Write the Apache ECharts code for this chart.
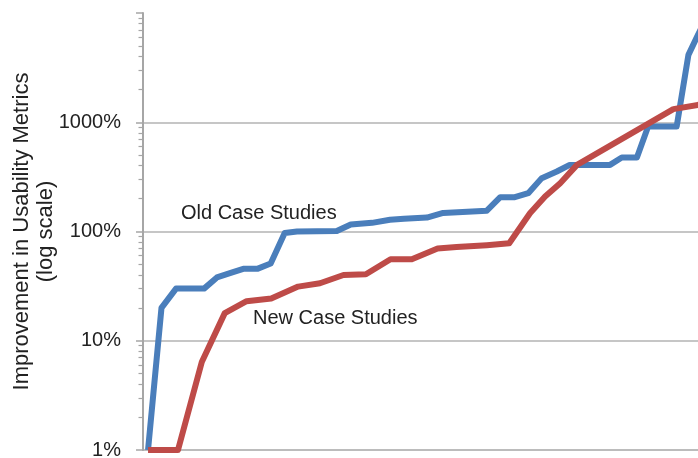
<!DOCTYPE html>
<html>
<head>
<meta charset="utf-8">
<style>
  html, body { margin: 0; padding: 0; background: #fff; }
  #chart { width: 698px; height: 458px; }
</style>
<script src="https://cdn.jsdelivr.net/npm/echarts@6/dist/echarts.min.js"></script>
</head>
<body>
<div id="chart"></div>
<script>
// Position of each study along the ranked list (percent of studies, 0-100)
const oldRank = [0.9, 3.3, 5.9, 10.9, 13.2, 15.8, 17.9, 20.4, 22.8, 25.3, 27.5, 34.6, 37.1, 40.9, 44.1, 46.6, 50.7, 53.6, 61.4, 63.8, 66.4, 68.8, 71.2, 73.9, 76.2, 83.4, 85.5, 88.2, 90.2, 95.3, 97.4, 99.1, 100];
// Improvement in usability metrics, in percent
const oldImprovement = [1, 20, 30, 30, 38, 42, 45.5, 45.5, 51, 97, 100, 101, 116, 120, 128, 131, 134, 148, 155, 206, 206, 224, 308, 354, 407, 407, 475, 475, 914, 914, 4140, 6310, 7800];

const newRank = [0.9, 6.25, 10.5, 14.6, 18.5, 22.9, 27.7, 31.6, 35.8, 39.8, 44.2, 48.0, 52.6, 56.0, 61.4, 65.4, 69.1, 71.8, 74.5, 77.5, 94.7, 99.1, 100];
const newImprovement = [1, 1, 6.4, 17.9, 23, 24.4, 31.3, 33.6, 40, 40.6, 55.7, 55.7, 70, 72, 75, 78, 147, 209, 277, 407, 1318, 1443, 1460];

// Major and minor tick values on the logarithmic axis
const majorTicks = [1, 10, 100, 1000, 10000];
const minorTicks = [];
for (let d = 1; d < 10000; d *= 10) {
  for (let k = 2; k <= 9; k++) minorTicks.push(d * k);
}

const seriesNames = ['Old Case Studies', 'New Case Studies'];
const axisTitle = 'Improvement in Usability Metrics\n(log scale)';

const zip = (xs, ys) => xs.map((x, i) => [x, ys[i]]);
const textColor = '#222';
const axisGray = '#a6a6a6';
const fontFamily = '"Liberation Sans", Arial, sans-serif';

const chart = echarts.init(document.getElementById('chart'), null, { renderer: 'canvas' });

chart.setOption({
  backgroundColor: '#ffffff',
  animation: false,
  grid: {
    left: 143, top: 13, bottom: 8, right: -5,
    outerBoundsMode: 'none'
  },
  xAxis: {
    type: 'value',
    min: 0, max: 100,
    axisLine: { show: true, lineStyle: { color: axisGray, width: 1.5 } },
    axisTick: { show: false },
    axisLabel: { show: false },
    splitLine: { show: false }
  },
  yAxis: [
    {
      type: 'log',
      logBase: 10,
      min: 1, max: 10000,
      position: 'left',
      axisLine: { show: true, onZero: false, lineStyle: { color: axisGray, width: 2 } },
      axisTick: { show: true, inside: false, length: 7, lineStyle: { color: axisGray, width: 1.5 } },
      axisLabel: {
        margin: 22,
        fontSize: 20,
        fontFamily: fontFamily,
        color: textColor,
        formatter: v => (v >= 10000 ? '' : v + '%')
      },
      splitLine: {
        show: true,
        showMinLine: false,
        showMaxLine: false,
        lineStyle: { color: '#b3b3b3', width: 1.5 }
      },
      name: axisTitle,
      nameLocation: 'middle',
      nameRotate: 90,
      nameGap: 85,
      nameMoveOverlap: false,
      nameTextStyle: {
        fontSize: 22,
        lineHeight: 24,
        fontFamily: fontFamily,
        color: textColor
      }
    },
    {
      type: 'log',
      logBase: 10,
      min: 1, max: 10000,
      position: 'left',
      axisLine: { show: false },
      axisTick: {
        show: true, inside: false, length: 4.5,
        customValues: minorTicks,
        lineStyle: { color: axisGray, width: 1.2 }
      },
      axisLabel: { show: false },
      splitLine: { show: false }
    }
  ],
  series: [
    {
      name: seriesNames[0],
      type: 'line',
      data: zip(oldRank, oldImprovement),
      showSymbol: false,
      lineStyle: { color: '#4a7ebb', width: 6, join: 'round' },
      z: 2
    },
    {
      name: seriesNames[1],
      type: 'line',
      data: zip(newRank, newImprovement),
      showSymbol: false,
      lineStyle: { color: '#be4b48', width: 6, join: 'round' },
      z: 3
    }
  ],
  graphic: [
    {
      type: 'text',
      x: 181, y: 213,
      style: {
        text: seriesNames[0],
        fontSize: 20,
        fontFamily: fontFamily,
        fill: textColor,
        verticalAlign: 'middle'
      }
    },
    {
      type: 'text',
      x: 253, y: 318,
      style: {
        text: seriesNames[1],
        fontSize: 20,
        fontFamily: fontFamily,
        fill: textColor,
        verticalAlign: 'middle'
      }
    }
  ]
});
</script>
</body>
</html>
